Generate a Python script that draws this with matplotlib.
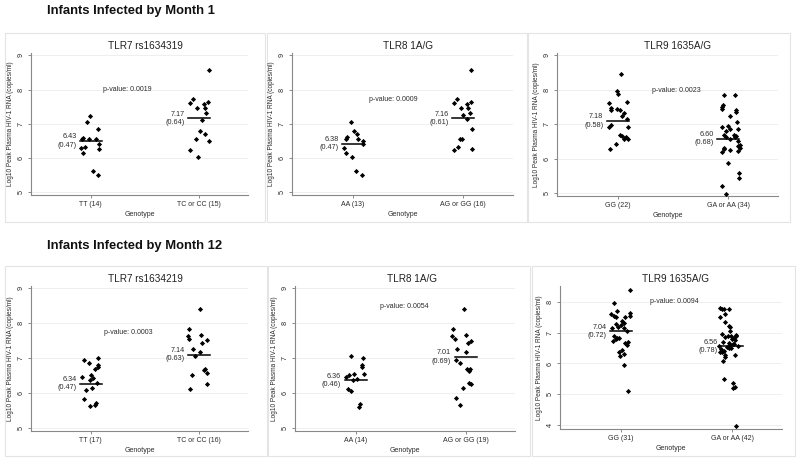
import matplotlib.pyplot as plt
from matplotlib.patches import Rectangle

plt.rcParams['font.family'] = ['Liberation Sans', 'DejaVu Sans']

# ---- data ----
titles = ["TLR7 rs1634319", "TLR8 1A/G", "TLR9 1635A/G",
          "TLR7 rs1634219", "TLR8 1A/G", "TLR9 1635A/G"]

groups = [["TT (14)", "TC or CC (15)"], ["AA (13)", "AG or GG (16)"], ["GG (22)", "GA or AA (34)"],
          ["TT (17)", "TC or CC (16)"], ["AA (14)", "AG or GG (19)"], ["GG (31)", "GA or AA (42)"]]

pvalues = ["0.0019", "0.0009", "0.0023", "0.0003", "0.0054", "0.0094"]

means_txt = [[("6.43", "0.47"), ("7.17", "0.64")],
             [("6.38", "0.47"), ("7.16", "0.61")],
             [("7.18", "0.58"), ("6.60", "0.68")],
             [("6.34", "0.47"), ("7.14", "0.63")],
             [("6.36", "0.46"), ("7.01", "0.69")],
             [("7.04", "0.72"), ("6.56", "0.78")]]

# centre line heights as drawn
center_lines = [[6.50, 7.16], [6.42, 7.16], [7.10, 6.58], [6.26, 7.10], [6.36, 7.03], [7.05, 6.56]]

# month 1
p1_g1 = [7.24, 7.04, 6.86, 6.60, 6.57, 6.57, 6.57, 6.42, 6.33, 6.28, 6.25, 6.15, 5.63, 5.50]
p1_g1_dx = [-0.01, -0.03, 0.07, -0.07, -0.08, -0.02, 0.05, 0.08, -0.05, -0.09, 0.08, -0.07, 0.02, 0.07]
p1_g2 = [8.58, 7.74, 7.60, 7.64, 7.45, 7.59, 7.45, 7.32, 7.12, 6.80, 6.69, 6.57, 6.51, 6.24, 6.03]
p1_g2_dx = [0.09, -0.06, -0.08, 0.08, -0.02, 0.04, 0.05, 0.06, 0.03, 0.01, 0.05, -0.03, 0.09, -0.08, -0.01]

p2_g1 = [7.04, 6.80, 6.70, 6.57, 6.57, 6.61, 6.50, 6.42, 6.28, 6.15, 6.03, 5.63, 5.50]
p2_g1_dx = [-0.02, 0.01, 0.04, 0.05, -0.06, -0.05, 0.09, 0.09, -0.08, -0.06, -0.01, 0.03, 0.08]
p2_g2 = [8.57, 7.73, 7.60, 7.64, 7.59, 7.45, 7.45, 7.25, 7.33, 7.14, 6.86, 6.57, 6.57, 6.33, 6.23, 6.25]
p2_g2_dx = [0.07, -0.06, -0.08, 0.07, 0.03, -0.02, 0.04, 0.0, 0.06, 0.03, 0.08, -0.03, -0.01, -0.05, -0.08, 0.08]

p3_g1 = [8.45, 7.97, 7.87, 7.66, 7.61, 7.46, 7.43, 7.45, 7.42, 7.33, 7.24, 7.15, 6.97, 6.91, 6.91,
         6.69, 6.66, 6.63, 6.57, 6.56, 6.42, 6.29]
p3_g1_dx = [0.03, -0.01, 0.0, 0.08, -0.08, -0.06, -0.06, -0.01, 0.02, 0.06, 0.04, 0.08, -0.06, -0.08, 0.09,
            0.02, 0.04, 0.07, 0.06, 0.09, -0.02, -0.07]
p3_g2 = [7.84, 7.84, 7.57, 7.51, 7.45, 7.43, 7.35, 7.23, 7.07, 6.92, 6.95, 6.80, 6.85, 6.85, 6.70, 6.70,
         6.66, 6.62, 6.63, 6.56, 6.53, 6.40, 6.38, 6.32, 6.32, 6.27, 6.21, 6.26, 6.22, 5.89, 5.59, 5.43,
         5.22, 4.98]
p3_g2_dx = [-0.04, 0.06, -0.05, -0.06, -0.06, 0.07, 0.07, 0.02, 0.08, -0.06, 0.0, -0.02, 0.02, 0.09, -0.04, 0.05,
            0.07, -0.02, 0.06, 0.02, 0.09, 0.11, 0.09, -0.04, 0.11, -0.04, -0.06, 0.02, 0.09, 0.0, 0.1, 0.1,
            -0.06, -0.02]

# month 12
p4_g1 = [6.93, 6.85, 7.00, 6.80, 6.73, 6.67, 6.52, 6.46, 6.43, 6.36, 6.28, 6.15, 6.07, 5.83, 5.70, 5.64, 5.62]
p4_g1_dx = [-0.06, -0.02, 0.07, 0.07, 0.07, 0.04, 0.0, -0.08, 0.02, -0.01, 0.06, 0.01, -0.04, -0.06, 0.05, 0.04, -0.01]
p4_g2 = [8.41, 7.84, 7.62, 7.54, 7.67, 7.51, 7.44, 7.26, 7.16, 7.06, 6.69, 6.64, 6.58, 6.51, 6.26, 6.10]
p4_g2_dx = [0.01, -0.09, -0.1, -0.09, 0.02, 0.07, 0.03, -0.06, 0.01, -0.04, 0.05, 0.04, 0.07, -0.07, 0.07, -0.08]

p5_g1 = [7.05, 7.00, 6.80, 6.73, 6.46, 6.50, 6.53, 6.40, 6.55, 6.36, 6.10, 6.06, 5.69, 5.60]
p5_g1_dx = [-0.04, 0.07, 0.06, 0.06, -0.09, -0.06, -0.01, 0.01, 0.08, -0.02, -0.07, -0.04, 0.04, 0.03]
p5_g2 = [8.40, 7.83, 7.62, 7.54, 7.66, 7.50, 7.43, 7.26, 7.16, 6.93, 6.85, 6.67, 6.63, 6.67, 6.29, 6.25,
         6.15, 5.84, 5.64]
p5_g2_dx = [-0.01, -0.11, -0.12, -0.1, 0.0, 0.05, 0.02, -0.08, 0.0, -0.09, -0.05, 0.01, 0.03, 0.04, 0.03, 0.05,
            -0.02, -0.09, -0.05]

p6_g1 = [8.40, 7.98, 7.70, 7.60, 7.55, 7.52, 7.64, 7.51, 7.55, 7.38, 7.33, 7.27, 7.17, 7.15, 7.18, 7.07,
         6.74, 6.83, 6.82, 6.80, 6.68, 6.70, 6.61, 6.38, 6.32, 6.24, 5.95, 5.10, 7.25, 6.88, 6.45]
p6_g1_dx = [0.08, -0.06, -0.04, -0.09, -0.06, -0.05, 0.08, 0.04, 0.08, 0.01, 0.03, -0.05, 0.03, -0.08, -0.03, 0.05,
            -0.07, -0.04, -0.02, -0.05, 0.04, 0.06, 0.05, -0.02, 0.03, -0.01, 0.03, 0.06, 0.0, -0.06, 0.01]
p6_g2 = [7.82, 7.77, 7.76, 7.76, 7.62, 7.51, 7.34, 7.23, 7.18, 6.97, 6.89, 6.92, 6.90, 6.89, 6.83, 6.79,
         6.76, 6.70, 6.68, 6.65, 6.62, 6.60, 6.56, 6.53, 6.50, 6.52, 6.46, 6.40, 6.38, 6.36, 6.29, 6.29,
         6.07, 6.22, 5.49, 5.38, 5.21, 5.22, 3.98, 6.58, 6.86, 7.05]
p6_g2_dx = [-0.11, -0.09, -0.07, -0.03, -0.06, -0.11, -0.06, -0.03, -0.02, -0.09, -0.04, 0.04, 0.04, -0.01, 0.02, 0.0,
            0.03, -0.08, -0.03, 0.01, 0.02, -0.02, -0.12, -0.05, -0.03, -0.01, -0.1, -0.07, -0.11, -0.09, -0.06, 0.03,
            -0.08, -0.06, -0.07, 0.01, 0.01, 0.03, 0.04, 0.05, -0.06, -0.02]

values = [(p1_g1, p1_g2), (p2_g1, p2_g2), (p3_g1, p3_g2), (p4_g1, p4_g2), (p5_g1, p5_g2), (p6_g1, p6_g2)]
jitter = [(p1_g1_dx, p1_g2_dx), (p2_g1_dx, p2_g2_dx), (p3_g1_dx, p3_g2_dx),
          (p4_g1_dx, p4_g2_dx), (p5_g1_dx, p5_g2_dx), (p6_g1_dx, p6_g2_dx)]

# ---- layout (pixels) ----
W, H = 800, 462
fig = plt.figure(figsize=(8, 4.62), dpi=100)

def px(l, t, r, b):
    return [l / W, 1 - b / H, (r - l) / W, (b - t) / H]

axes_px = [(31, 53, 248, 195), (292, 53, 513, 195), (557, 53, 778, 196),
           (31, 286, 248, 431), (295, 286, 515, 431), (560, 286, 782, 429)]
boxes_px = [(5, 33, 265, 222), (267, 33, 527, 222), (528, 33, 790, 222),
            (5, 266, 267, 456), (268, 266, 530, 456), (532, 266, 795, 456)]
title_px = [(145, 46), (408, 46), (678, 46), (145, 279), (412, 279), (675, 279)]
ylims = [(4.92, 9.07), (4.92, 9.07), (4.92, 9.07), (4.90, 9.07), (4.90, 9.07), (3.87, 8.52)]
yticks = [[5, 6, 7, 8, 9]] * 5 + [[4, 5, 6, 7, 8]]
ptext_pos = [(1.34, 8.01), (1.37, 7.72), (1.53, 7.98), (1.35, 7.72), (1.44, 8.49), (1.48, 8.0)]

txt = '#2b2b2b'

for (l, t, r, b) in boxes_px:
    fig.patches.append(Rectangle((l / W, 1 - b / H), (r - l) / W, (b - t) / H, transform=fig.transFigure,
                                 facecolor='white', edgecolor='#e4e4e4', lw=0.8, zorder=-5))

fig.text(47 / W, 1 - 11 / H, "Infants Infected by Month 1", fontsize=9.4, fontweight='bold',
         va='center', ha='left', color='#111111')
fig.text(47 / W, 1 - 246 / H, "Infants Infected by Month 12", fontsize=9.4, fontweight='bold',
         va='center', ha='left', color='#111111')

for i in range(6):
    ax = fig.add_axes(px(*axes_px[i]))
    ax.set_facecolor('none')
    for j in range(2):
        ys = values[i][j]
        xs = [j + 1 + d for d in jitter[i][j]]
        ax.scatter(xs, ys, s=7, color='black', marker='D', linewidths=0, zorder=3)
        c = center_lines[i][j]
        ax.plot([j + 1 - 0.1, j + 1 + 0.1], [c, c], color='black', lw=1.1, zorder=3)
        m, sd = means_txt[i][j]
        ax.text(j + 1 - 0.13, c, m + "\n(" + sd + ")", ha='right', va='center',
                fontsize=5.2, color=txt, linespacing=1.25)
    ax.text(ptext_pos[i][0], ptext_pos[i][1], "p-value: " + pvalues[i], ha='center', va='center',
            fontsize=5.0, color=txt)

    ax.set_xlim(0.45, 2.45)
    ax.set_ylim(*ylims[i])
    ax.set_xticks([1, 2])
    ax.set_xticklabels(groups[i], fontsize=5.0)
    ax.set_yticks(yticks[i])
    ax.set_yticklabels([str(v) for v in yticks[i]], rotation=90, va='center', fontsize=5.2)
    ax.tick_params(axis='both', colors='#777777', labelcolor=txt, length=2.5,
                   width=0.6, pad=2)
    ax.grid(axis='y', color='#ececec', lw=0.6)
    ax.set_axisbelow(True)
    for s in ['top', 'right']:
        ax.spines[s].set_visible(False)
    for s in ['left', 'bottom']:
        ax.spines[s].set_color('#888888')
        ax.spines[s].set_linewidth(0.8)
    ax.set_xlabel("Genotype", fontsize=5.0, color=txt, labelpad=2)
    ax.set_ylabel("Log10 Peak Plasma HIV-1 RNA (copies/ml)", fontsize=4.7, color=txt, labelpad=3)

    tx, ty = title_px[i]
    fig.text(tx / W, 1 - ty / H, titles[i], ha='center', va='center', fontsize=7.2, color='#222222')

plt.savefig("out.png", dpi=100)
